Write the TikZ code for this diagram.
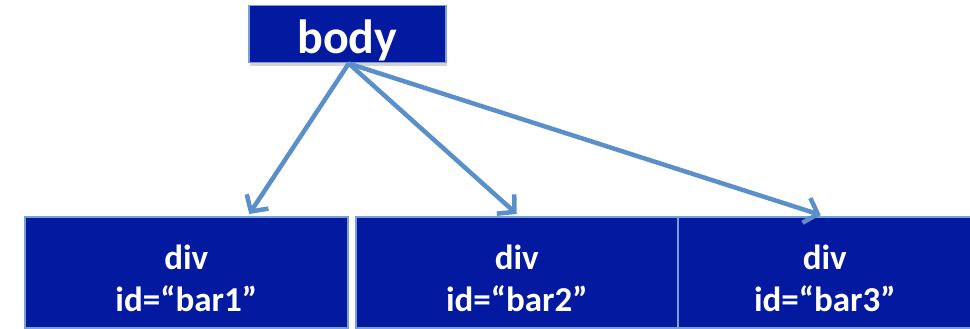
\documentclass[tikz,border=0pt]{standalone}
\usepackage{fontspec}
\setmainfont{Carlito}
\usetikzlibrary{calc,arrows.meta,positioning,shadows}

\definecolor{boxfill}{RGB}{2,25,160}
\definecolor{boxline}{RGB}{120,160,212}
\definecolor{arrline}{RGB}{90,143,202}

\begin{document}
\begin{tikzpicture}[x=1pt,y=-1pt,
 elem/.style={draw=boxline, line width=1.5pt, fill=boxfill,
    anchor=north west, inner sep=0pt},
 caption/.style={text=white, align=center, inner sep=0pt,
    font=\fontsize{35}{42}\selectfont\bfseries},
 link/.style={draw=arrline, line width=4.5pt,
    -{Straight Barb[length=12pt,width=26pt,line width=4.5pt]}}]

    \useasboundingbox (0,0) rectangle (970,329);

    % parent element
    \node[elem, minimum width=197pt, minimum height=57pt,
          drop shadow={shadow xshift=1pt, shadow yshift=-3pt, opacity=0.35}]
        (body) at (248,5) {};
    \node[caption, font=\fontsize{48}{50}\selectfont\bfseries]
        (bodytxt) at ([yshift=-6pt]body.center) {body};

    % child elements
    \node[elem, minimum width=323pt, minimum height=111pt] (bar1) at (24,216) {};
    \node[elem, minimum width=322pt, minimum height=111pt] (bar2) at (355,216) {};
    \node[elem, minimum width=294pt, minimum height=111pt] (bar3) at (677,216) {};

    \node[caption] (bar1txt) at ([yshift=-6pt]bar1.center) {div\\id=“bar1”};
    \node[caption] (bar2txt) at ([yshift=-6pt]bar2.center) {div\\id=“bar2”};
    \node[caption] (bar3txt) at ([yshift=-6pt]bar3.center) {div\\id=“bar3”};

    \coordinate (root) at ([xshift=1.5pt]body.south);

    \draw[link] (root) -- ([xshift=63pt,yshift=2pt]bar1.north);
    \draw[link] (root) -- ([yshift=2pt]bar2.north);
    \draw[link] (root) -- ([xshift=-4pt,yshift=1pt]bar3.north);

\end{tikzpicture}
\end{document}
